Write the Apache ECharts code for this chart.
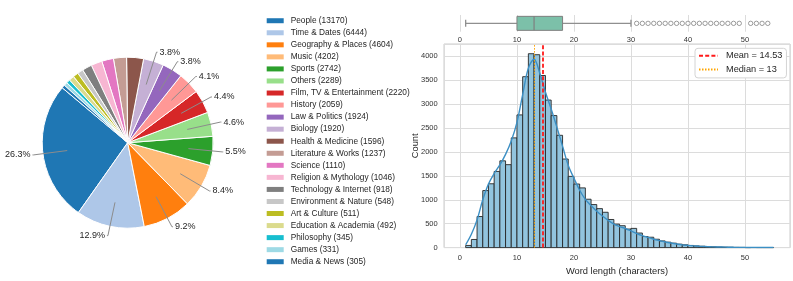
<!DOCTYPE html>
<html><head><meta charset="utf-8">
<script src="https://cdn.jsdelivr.net/npm/echarts@6/dist/echarts.min.js"></script>
<style>html,body{margin:0;padding:0;background:#fff;}#c{width:793px;height:281px;}</style>
</head><body><div id="c"></div>
<script>
// ---------- Pie data ----------
const categories = ['People','Time & Dates','Geography & Places','Music','Sports','Others','Film, TV & Entertainment','History','Law & Politics','Biology','Health & Medicine','Literature & Works','Science','Religion & Mythology','Technology & Internet','Environment & Nature','Art & Culture','Education & Academia','Philosophy','Games','Media & News'];
const categoryCounts = [13170,6444,4604,4202,2742,2289,2220,2059,1924,1920,1596,1237,1110,1046,918,548,511,492,345,331,305];
const sliceColors = ['#1f77b4','#aec7e8','#ff7f0e','#ffbb78','#2ca02c','#98df8a','#d62728','#ff9896','#9467bd','#c5b0d5','#8c564b','#c49c94','#e377c2','#f7b6d2','#7f7f7f','#c7c7c7','#bcbd22','#dbdb8d','#17becf','#9edae5','#1f77b4'];

// ---------- Histogram data ----------
const binEdges = [1,2,3,4,5,6,7,8,9,10,11,12,13,14,15,16,17,18,19,20,21,22,23,24,25,26,27,28,29,30,31,32,33,34,35,36,37,38,39,40,41,42,43,44,45,46,47,48,49,50,51,52,53,54,55];
const binCounts = [45,170,650,1193,1335,1593,1815,1735,2295,2776,3575,4056,4035,3600,3086,2762,2349,1853,1490,1330,1249,1012,900,815,739,588,491,458,388,402,305,231,217,175,140,114,93,72,58,45,35,28,22,16,12,9,7,5,4,0,2,1,1,1];
const kdeX = [1,2,3,4,5,6,7,8,9,10,11,12,13,14,15,16,17,18,19,20,21,22,23,24,25,26,27,28,29,30,31,32,33,34,35,36,37,38,39,40,41,42,43,44,45,46,47,48,49,50,51,52,53,54,55];
const kdeY = [60,280,580,1000,1330,1550,1730,1950,2230,2620,3200,3750,3940,3650,3250,2900,2520,2120,1720,1450,1200,1010,880,760,660,570,490,440,400,350,295,250,215,175,145,118,95,75,58,47,37,29,23,18,14,11,8,6,5,4,3,2,2,1,1];
const meanValue = 14.53;
const medianValue = 13;

// ---------- Boxplot data ----------
const boxStats = [1,10,13,18,30]; // min, Q1, median, Q3, max whisker
const outliers = [31,32,33,34,35,36,37,38,39,40,41,42,43,44,45,46,47,48,49,51,52,53,54];

const FONT = '"Liberation Sans", Arial, Helvetica, sans-serif';
const xMin = -2.8, xMax = 57.9, yMax = 4259;
const total = categoryCounts.reduce((a,b)=>a+b,0);

const pieData = categories.map((n,i)=>({name:n, value:categoryCounts[i], itemStyle:{color:sliceColors[i]}}));
const labelData = categories.map((n,i)=>{
  const show = categoryCounts[i]/total >= 0.035;
  return {name:n, value:categoryCounts[i], label:{show:show}, labelLine:{show:show}};
});

const histData = binCounts.map((c,i)=>[binEdges[i], binEdges[i+1], c]);
const kdeData = kdeX.map((x,i)=>[x, kdeY[i]]);
const meanName = 'Mean = ' + meanValue;
const medianName = 'Median = ' + medianValue;

const chart = echarts.init(document.getElementById('c'), null, {renderer:'canvas', width:793, height:281});
const tickLabel = {fontSize:7.5, color:'#333', fontFamily:FONT, formatter:(v)=>String(v)};

const option = {
  animation:false,
  backgroundColor:'#fff',
  textStyle:{fontFamily:FONT},
  legend:[
    {
      data:categories, orient:'vertical', left:266.7, top:14.7, padding:0,
      icon:'rect', itemWidth:17, itemHeight:5, itemGap:0,
      itemStyle:{borderWidth:0},
      selectedMode:false,
      formatter:(name)=> name + ' (' + categoryCounts[categories.indexOf(name)] + ')',
      textStyle:{fontSize:8.3, color:'#262626', lineHeight:12.05, padding:[0,0,0,2], fontFamily:FONT}
    },
    {
      data:[meanName, medianName], orient:'vertical', left:695, top:48.3,
      padding:[2,4,3,3], itemWidth:19, itemHeight:8, itemGap:2.6,
      selectedMode:false,
      itemStyle:{opacity:0},
      backgroundColor:'#fff', borderColor:'#d4d4d4', borderWidth:1, borderRadius:3,
      textStyle:{fontSize:9.2, color:'#262626', lineHeight:11, padding:[0,0,0,3], fontFamily:FONT}
    }
  ],
  grid:[
    {left:444, right:3, top:15, height:16.7, show:false},
    {left:444, right:3, top:44, height:206.5, show:true, borderColor:'#cccccc', borderWidth:1, backgroundColor:'#fff'}
  ],
  xAxis:[
    {gridIndex:0, type:'value', min:xMin, max:xMax, splitNumber:6,
     axisLine:{show:false}, axisTick:{show:false},
     axisLabel:Object.assign({margin:4.6, showMinLabel:false, showMaxLabel:false}, tickLabel),
     splitLine:{showMinLine:false, showMaxLine:false, lineStyle:{color:'#dcdcdc', width:1}}},
    {gridIndex:1, type:'value', min:xMin, max:xMax, splitNumber:6,
     name:'Word length (characters)', nameLocation:'middle', nameGap:11,
     nameTextStyle:{fontSize:9.3, color:'#262626', fontFamily:FONT},
     axisLine:{show:false}, axisTick:{show:false},
     axisLabel:Object.assign({margin:6.5, showMinLabel:false, showMaxLabel:false}, tickLabel),
     splitLine:{lineStyle:{color:'#dcdcdc', width:1}}}
  ],
  yAxis:[
    {gridIndex:0, type:'value', min:-1, max:1, show:false},
    {gridIndex:1, type:'value', min:0, max:yMax, interval:500,
     name:'Count', nameLocation:'middle', nameGap:24, nameMoveOverlap:false,
     nameTextStyle:{fontSize:9.3, color:'#262626', fontFamily:FONT},
     axisLine:{show:false}, axisTick:{show:false},
     axisLabel:Object.assign({margin:6.3, showMaxLabel:false}, tickLabel),
     splitLine:{lineStyle:{color:'#dcdcdc', width:1}}}
  ],
  series:[
    {
      type:'pie', name:'categories', center:[127.7,142.7], radius:85.5,
      startAngle:140, clockwise:false, avoidLabelOverlap:false, silent:true,
      label:{show:false}, labelLine:{show:false},
      itemStyle:{borderColor:'#fff', borderWidth:1},
      data:pieData
    },
    {
      type:'pie', name:'labels', center:[127.7,142.7], radius:61,
      startAngle:140, clockwise:false, avoidLabelOverlap:false, silent:true, z:5,
      itemStyle:{color:'transparent', borderWidth:0},
      label:{position:'outside', fontSize:9, color:'#262626', fontFamily:FONT, distanceToLabelLine:2,
        formatter:(p)=> (p.value/total*100).toFixed(1) + '%'},
      labelLine:{length:34, length2:1, smooth:false, lineStyle:{color:'#8c8c8c', width:1}},
      data:labelData
    },
    {
      type:'custom', name:'box', xAxisIndex:0, yAxisIndex:0, silent:true,
      data:[boxStats],
      renderItem:(params, api)=>{
        const lo = api.coord([api.value(0),0]);
        const q1 = api.coord([api.value(1),0]);
        const md = api.coord([api.value(2),0]);
        const q3 = api.coord([api.value(3),0]);
        const hi = api.coord([api.value(4),0]);
        const cy = lo[1], h = 14, cap = 7;
        const wStyle = {stroke:'#8f8f8f', lineWidth:1.3};
        return {type:'group', children:[
          {type:'line', shape:{x1:lo[0],y1:cy,x2:q1[0],y2:cy}, style:wStyle},
          {type:'line', shape:{x1:q3[0],y1:cy,x2:hi[0],y2:cy}, style:wStyle},
          {type:'line', shape:{x1:lo[0],y1:cy-cap/2,x2:lo[0],y2:cy+cap/2}, style:wStyle},
          {type:'line', shape:{x1:hi[0],y1:cy-cap/2,x2:hi[0],y2:cy+cap/2}, style:wStyle},
          {type:'rect', shape:{x:q1[0], y:cy-h/2, width:q3[0]-q1[0], height:h}, style:{fill:'#7cc0a9', stroke:'#7f7f7f', lineWidth:1}},
          {type:'line', shape:{x1:md[0],y1:cy-h/2,x2:md[0],y2:cy+h/2}, style:{stroke:'#7f7f7f', lineWidth:1.2}}
        ]};
      }
    },
    {
      type:'scatter', name:'outliers', xAxisIndex:0, yAxisIndex:0, silent:true,
      symbol:'circle', symbolSize:4.4,
      itemStyle:{color:'#ffffff', borderColor:'#666666', borderWidth:0.8},
      data:outliers.map(v=>[v,0])
    },
    {
      type:'custom', name:'hist', xAxisIndex:1, yAxisIndex:1, silent:true,
      encode:{x:[0,1], y:2},
      data:histData,
      renderItem:(params, api)=>{
        const p0 = api.coord([api.value(0), api.value(2)]);
        const p1 = api.coord([api.value(1), 0]);
        return {type:'rect', shape:{x:p0[0], y:p0[1], width:p1[0]-p0[0], height:p1[1]-p0[1]},
          style:{fill:'#92c4de', stroke:'#262626', lineWidth:0.9}};
      }
    },
    {
      type:'line', name:'kde', xAxisIndex:1, yAxisIndex:1, silent:true,
      data:kdeData, smooth:0.35, symbol:'none', z:3,
      lineStyle:{color:'#3b8fc4', width:1.4}
    },
    {
      type:'line', name:meanName, xAxisIndex:1, yAxisIndex:1, data:[], symbol:'none', showSymbol:false, z:4,
      color:'#ff1a1a',
      lineStyle:{color:'#ff1a1a', type:[4,2.2], width:1.8},
      markLine:{silent:true, symbol:'none', label:{show:false},
        lineStyle:{color:'#ff1a1a', type:[4,2.2], width:1.8},
        data:[{xAxis:meanValue}]}
    },
    {
      type:'line', name:medianName, xAxisIndex:1, yAxisIndex:1, data:[], symbol:'none', showSymbol:false, z:4,
      color:'#ffa500',
      lineStyle:{color:'#ffa500', type:[1.5,1.5], width:1},
      markLine:{silent:true, symbol:'none', label:{show:false},
        lineStyle:{color:'#ffa500', type:[1.5,1.5], width:1},
        data:[{xAxis:medianValue}]}
    }
  ]
};
chart.setOption(option);
</script>
</body></html>
